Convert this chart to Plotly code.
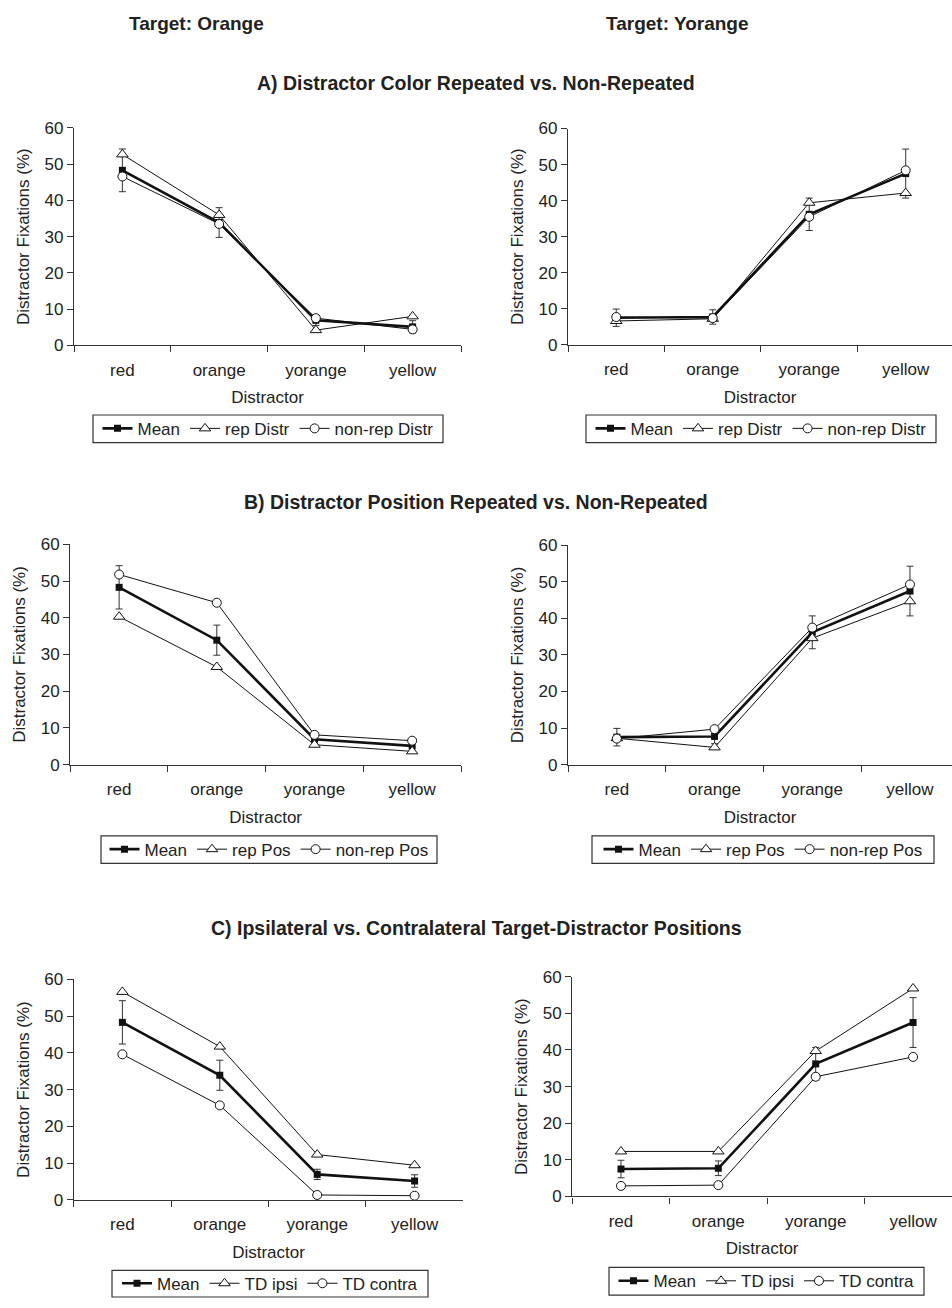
import plotly.graph_objects as go

# ---------------- data ----------------
categories = ["red", "orange", "yorange", "yellow"]

mean_orange = [48.3, 33.9, 6.9, 5.1]
err_orange = [5.9, 4.1, 1.4, 1.7]
mean_yorange = [7.5, 7.7, 36.2, 47.5]
err_yorange = [2.4, 2.0, 4.5, 6.8]

rep_distr_orange = [52.7, 36.0, 4.2, 8.0]
nonrep_distr_orange = [46.6, 33.5, 7.5, 4.4]
rep_distr_yorange = [6.6, 7.2, 39.4, 42.1]
nonrep_distr_yorange = [7.7, 7.4, 35.5, 48.4]

rep_pos_orange = [40.3, 26.6, 5.4, 3.6]
nonrep_pos_orange = [51.8, 44.1, 8.1, 6.5]
rep_pos_yorange = [7.2, 4.7, 34.6, 44.7]
nonrep_pos_yorange = [7.1, 9.7, 37.5, 49.3]

td_ipsi_orange = [56.6, 41.7, 12.3, 9.4]
td_contra_orange = [39.6, 25.7, 1.3, 1.1]
td_ipsi_yorange = [12.3, 12.3, 39.7, 56.8]
td_contra_yorange = [2.9, 3.1, 32.7, 38.1]

y_ticks = [0, 10, 20, 30, 40, 50, 60]
column_titles = ["Target: Orange", "Target: Yorange"]
row_titles = ["A) Distractor Color Repeated vs. Non-Repeated",
              "B) Distractor Position Repeated vs. Non-Repeated",
              "C) Ipsilateral vs. Contralateral Target-Distractor Positions"]
x_title = "Distractor"
y_title = "Distractor Fixations (%)"

# ---------------- layout geometry (pixels) ----------------
W, H = 952, 1308
FONT = "Liberation Sans, Arial, sans-serif"
TXT = "#222222"
AX = "#333333"

panels = [
    # (mean, err, s2, s3, name2, name3, x0, x1, xmax, ytop, ybot, legend box l, r, t, b)
    (mean_orange, err_orange, rep_distr_orange, nonrep_distr_orange, "rep Distr", "non-rep Distr",
     74, 461, 3.5, 120.7, 341.3, (93, 443, 412, 440)),
    (mean_yorange, err_yorange, rep_distr_yorange, nonrep_distr_yorange, "rep Distr", "non-rep Distr",
     568, 952, 3.48, 121.3, 340.7, (586, 936, 412, 440)),
    (mean_orange, err_orange, rep_pos_orange, nonrep_pos_orange, "rep Pos", "non-rep Pos",
     70.3, 461, 3.5, 543.3, 766.7, (101, 437, 839, 867)),
    (mean_yorange, err_yorange, rep_pos_yorange, nonrep_pos_yorange, "rep Pos", "non-rep Pos",
     568, 952, 3.43, 544.3, 766.7, (592, 934, 839, 867)),
    (mean_orange, err_orange, td_ipsi_orange, td_contra_orange, "TD ipsi", "TD contra",
     73.7, 463.3, 3.5, 984.7, 1208.3, (112, 428, 1280, 1307)),
    (mean_yorange, err_yorange, td_ipsi_yorange, td_contra_yorange, "TD ipsi", "TD contra",
     572.3, 952, 3.40, 982, 1205, (609, 924, 1277, 1305)),
]

fig = go.Figure()
layout = dict(
    width=W, height=H,
    margin=dict(l=0, r=0, t=0, b=0),
    paper_bgcolor="white", plot_bgcolor="white",
    font=dict(family=FONT, size=17, color=TXT),
    showlegend=True,
)
shapes = []

for i, (mean, err, s2, s3, n2, n3, x0, x1, xmax, ytop, ybot, box) in enumerate(panels):
    k = i + 1
    xa = "x" if k == 1 else f"x{k}"
    ya = "y" if k == 1 else f"y{k}"
    lg = "legend" if k == 1 else f"legend{k}"

    fig.add_trace(go.Scatter(
        x=categories, y=mean, name="Mean", mode="lines+markers",
        line=dict(color="#111111", width=2.6),
        marker=dict(symbol="square", size=7, color="#111111"),
        error_y=dict(type="data", array=err, color=AX, thickness=1, width=3.5),
        xaxis=xa, yaxis=ya, legend=lg, cliponaxis=False))
    fig.add_trace(go.Scatter(
        x=categories, y=s2, name=n2, mode="lines+markers",
        line=dict(color="#111111", width=1),
        marker=dict(symbol="triangle-up", size=10, color="white",
                    line=dict(color="#111111", width=1)),
        xaxis=xa, yaxis=ya, legend=lg, cliponaxis=False))
    fig.add_trace(go.Scatter(
        x=categories, y=s3, name=n3, mode="lines+markers",
        line=dict(color="#111111", width=1),
        marker=dict(symbol="circle", size=9, color="white",
                    line=dict(color="#111111", width=1)),
        xaxis=xa, yaxis=ya, legend=lg, cliponaxis=False))

    xkey = "xaxis" if k == 1 else f"xaxis{k}"
    ykey = "yaxis" if k == 1 else f"yaxis{k}"
    layout[xkey] = dict(
        domain=[x0 / W, x1 / W], anchor=ya, type="category",
        categoryorder="array", categoryarray=categories,
        range=[-0.5, xmax], tickson="boundaries",
        showline=True, linecolor=AX, linewidth=1.3,
        ticks="outside", ticklen=6, tickcolor=AX, tickwidth=1.3,
        showgrid=False, zeroline=False, ticklabelstandoff=9,
        tickfont=dict(size=17, color=TXT),
        title=dict(text=x_title, standoff=12, font=dict(size=17, color=TXT)),
        fixedrange=True,
    )
    layout[ykey] = dict(
        domain=[(H - ybot) / H, (H - ytop) / H], anchor=xa,
        range=[0, 60], tickvals=y_ticks,
        showline=True, linecolor=AX, linewidth=1.3,
        ticks="outside", ticklen=6, tickcolor=AX, tickwidth=1.3,
        showgrid=False, zeroline=False,
        tickfont=dict(size=17, color=TXT),
        title=dict(text=y_title, standoff=10, font=dict(size=17, color=TXT)),
        fixedrange=True,
    )
    bl, br, bt, bb = box
    layout[lg] = dict(
        orientation="h", x=(bl + br) / 2 / W, xanchor="center",
        y=(H - (bt + bb) / 2) / H, yanchor="middle",
        borderwidth=0, bgcolor="rgba(0,0,0,0)",
        font=dict(size=17, color=TXT), itemsizing="trace",
        tracegroupgap=0,
    )
    shapes.append(dict(type="rect", xref="paper", yref="paper",
                       x0=bl / W, x1=br / W, y0=(H - bb) / H, y1=(H - bt) / H,
                       line=dict(color=AX, width=1.2), fillcolor="rgba(0,0,0,0)",
                       layer="below"))

annotations = []
for txt, cx in zip(column_titles, [196, 677]):
    annotations.append(dict(text="<b>" + txt + "</b>", x=cx / W, y=(H - 15) / H,
                            xref="paper", yref="paper", showarrow=False,
                            font=dict(size=19, color=TXT), xanchor="center", yanchor="middle"))
for txt, cy in zip(row_titles, [75, 500, 933]):
    annotations.append(dict(text="<b>" + txt + "</b>", x=476 / W, y=(H - cy) / H,
                            xref="paper", yref="paper", showarrow=False,
                            font=dict(size=19.5, color=TXT), xanchor="center", yanchor="middle"))
layout["annotations"] = annotations
layout["shapes"] = shapes

fig.update_layout(**layout)
fig.write_html("out.html")
